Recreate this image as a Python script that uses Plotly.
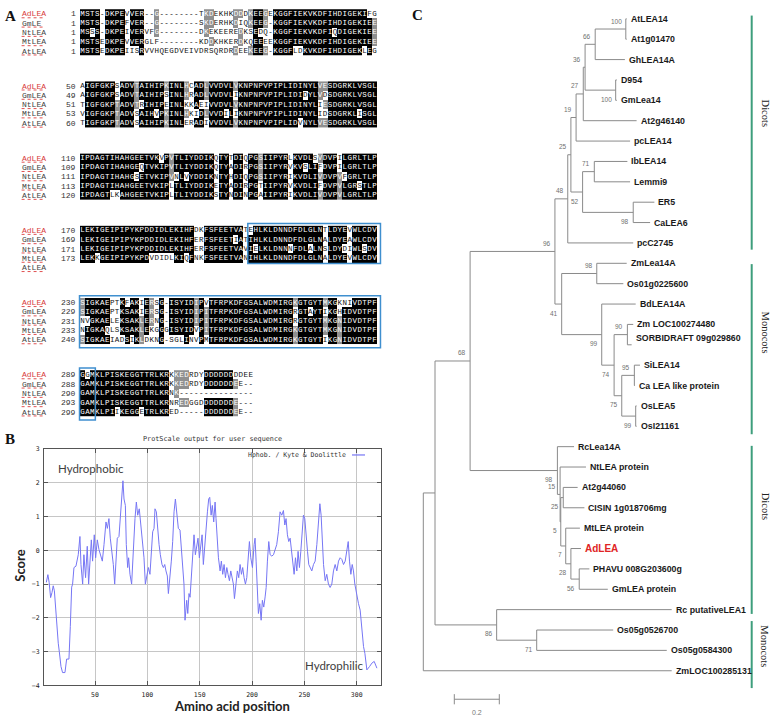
import plotly.graph_objects as go

# ============================== DATA ==============================
# ---- Panel A : multiple sequence alignment (6 blocks, 5 sequences) ----
aln_labels = ["AdLEA", "GmLEA", "NtLEA", "MtLEA", "AtLEA"]
aln_labels_block1 = ["AdLEA", "GmLE", "NtLEA", "MtLEA", "AtLEA"]

aln_block1 = [
    "MSTS-DKPEVVER--G--------TKDEKHKDDDKEEGEKGGFIEKVKDFIHDIGEKIFG",
    "MSTS-DKPEFVER--G--------SKDERHKDIQKEEG-KGGFIEKVKDFIHDIGEKIEE",
    "MSSS-DKPEIVERVFG--------DKEKEEREDKSEDQ-KGGFIEKVKDFIQDIGEKIEE",
    "MSTSEDKPEVVERGLF--------KDDKHKERDKQEEEEKGGFIEKVKDFIHDIGEKIEE",
    "MSTSEDKPEIISRVVHQEGDVEIVDRSQRDRDEEKEEG-KGGFLDKVKDFIHDIGEKLEG",
]
aln_block2 = [
    "AIGFGKPSADVTAIHIPKINLHCADLVVDVLVKNPNPVPIPLIDINYLVESDGRKLVSGL",
    "AIGFGKPSADVTAIHIPSINLHRADLVVDVLIKNPNPVPIPLIDIDYLVDSDGRKLVSGL",
    "TIGFGKPTADVTRIHIPEINLKKAEIVVDVLVKNPNPVPIPLIDINYLIESDGRKLVSGL",
    "VIGFGKPTADVSAIHVPKINLHKIDLVVDILIKNPNPVPIPLIDINYLIDSDGRKLISGL",
    "TIGFGKPTADVSAIHIPKINLERADIVVDVLVKNPNPVPIPLIDVNYLVESDGRKLVSGL",
]
aln_block3 = [
    "IPDAGTIHAHGEETVKVPVTLIYDDIKQTYTDIQPGSIIPYRLKVDLSVDVPILGRLTLP",
    "IPDAGTIHAHGEQTVKIPVTLIYDDIKQTYADIRPGSIIPYRVKVSLIFDVPILGRLTLP",
    "IPDAGTIHAHGSETVKIPVNLVYDDIKNTYHDIQPGSIIPYRIKVDLIVDVPVFGRLTLP",
    "IPDAGTIHAHGEETVKIPLTLIYDDIKETYADIRPGTIIPYRVKVDLIFDVPVLGRSTLP",
    "IPDAGTLKAHGEETVKIPLTLIYDDIKSTYNDINPGAIIPYRIKVDLIVDVPVLGRLTLP",
]
aln_block4 = [
    "LEKIGEIPIPYKPDDIDLEKIHFDKFSFEETVATEHLKLDNNDFDLGLNTLDYEVWLCDV",
    "LEKIGEIPIPYKPDDIDLEKIHFERFSFEETIATIHLKLDNNDFDLGLNALDYEAWLCDV",
    "LEKIGEIPIPYKPDDIDLEKIHFERFSFEETVAVIELKLDNNNFDLALNSLDYDIWLSDV",
    "LEKKGEIPIPYKPDVDIDLKIQFNKFSFEETVANIHLKLDNNDFDLGLNALDYEVWLCDV",
    "",
]
aln_block5 = [
    "SIGKAEPTKFAKIERSG-ISYIDIPVTFRPKDFGSALWDMIRGKGTGYTMKGKNIVDTPF",
    "SIGKAEPTKSAKIERSG-ISYIDIPITFRPKDFGSALWDMIRGRGTAYTIKGHIDVDTPF",
    "NVGKAELEKSAKLERNG-ISYIDIPITFRPKDFGSALWDMIRGRGTGYTMKGNIDVDTPF",
    "NIGKAQLSKSAKLEKGGGISYIDVPITFRPKDFGSALWDMIRGKGTGYTMKGNIDVDTPF",
    "SIGKAEIADSIKLDKNG-SGLINVPMTFRPKDFGSALWDMIRGKGTGYTIKGNIDVDTPF",
]
aln_block6 = [
    "GGMKLPISKEGGTTRLKRKKEDRDYDDDDDDDDEE",
    "GAMKLPISKEGGTTRLKRKKEDRDYDDDDDDEE--",
    "GAMKLPISKEGGTTRLKRNK---------------",
    "GAMKLPISKEGGTTRLKRNREDGGDDDDDDDE---",
    "GAMKLPIIKEGGETRLKRED-----DDDDDDEE--",
]
aln_starts = [
    [1, 1, 1, 1, 1],
    [50, 49, 51, 53, 60],
    [110, 109, 111, 113, 120],
    [170, 169, 171, 173, None],
    [230, 229, 231, 233, 240],
    [289, 288, 290, 293, 299],
]
# boxed motif regions: (block, first column, last column)
aln_boxes = [(3, 34, 59), (4, 0, 59), (5, 0, 2)]

# ---- Panel B : ProtScale Kyte & Doolittle hydropathy ----
kd_position = [
    3.5, 5.0, 6.2, 7.6, 8.9, 10.1, 11.2, 12.3, 13.3, 14.9, 15.9, 17.5, 19.0, 21.3, 22.9, 25.1,
    26.4, 27.7, 28.6, 29.9, 31.8, 34.0, 35.6, 36.6, 38.2, 39.4, 41.0, 42.6, 43.9, 45.2, 46.5,
    47.7, 49.3, 50.6, 52.2, 53.8, 55.4, 57.0, 58.6, 60.5, 61.8, 63.3, 64.6, 66.2, 67.5, 68.8,
    70.0, 71.3, 72.9, 74.5, 75.8, 76.7, 77.7, 79.0, 79.9, 81.2, 82.1, 83.4, 85.0, 86.6, 88.2,
    89.5, 90.8, 92.3, 93.6, 95.2, 96.8, 98.1, 99.4, 101.0, 102.5, 103.8, 105.1, 106.4, 107.3,
    108.6, 109.9, 111.2, 112.4, 114.0, 115.3, 116.6, 117.8, 119.1, 120.1, 121.7, 122.9, 124.2,
    125.5, 126.8, 128.0, 129.6, 131.2, 132.5, 133.8, 135.0, 136.0, 137.6, 138.6, 139.8, 140.8,
    142.1, 143.3, 144.6, 145.9, 147.2, 148.4, 149.7, 151.0, 152.3, 153.5, 154.8, 156.1, 157.4,
    158.6, 159.6, 160.9, 162.1, 163.4, 164.7, 165.6, 166.6, 167.9, 169.5, 170.7, 172.0, 173.3,
    174.6, 175.9, 177.1, 178.4, 179.7, 180.9, 182.2, 183.2, 184.5, 186.0, 187.3, 188.6, 189.9,
    191.1, 192.4, 193.7, 195.0, 196.2, 197.5, 198.8, 200.4, 202.0, 202.9, 203.9, 204.8, 206.1,
    207.4, 208.7, 209.9, 211.2, 212.5, 213.5, 214.7, 216.0, 217.3, 218.9, 220.5, 222.4, 223.6,
    225.2, 226.8, 228.4, 230.0, 231.3, 232.5, 233.8, 235.1, 236.4, 237.6, 238.9, 240.2, 241.5,
    242.8, 244.0, 245.3, 246.6, 247.9, 249.1, 250.4, 251.7, 253.0, 254.2, 255.5, 257.1, 258.7,
    260.3, 261.9, 263.5, 264.8, 266.0, 267.0, 268.3, 269.9, 271.4, 273.0, 274.6, 276.2, 277.8,
    279.4, 281.0, 282.6, 284.2, 285.8, 287.4, 289.0, 290.6, 291.9, 293.1, 294.4, 295.7, 296.9,
    298.2, 299.5, 301.7, 303.3, 304.9, 306.5, 307.8, 309.7, 312.3, 314.5, 316.7, 319.3,
]
kd_score = [
    -0.95, -0.72, -0.95, -1.40, -1.25, -1.05, -1.20, -1.75, -2.17, -2.75, -3.00, -3.44, -3.62, -3.62, -3.22, -3.22,
    -2.26, -1.09, -1.00, -0.51, -0.47, -0.13, 0.41, -0.42, -1.00, -0.13, -0.81, 0.12, -1.00, -0.32, 0.31,
    -0.32, 0.46, -0.22, 0.31, 0.02, -0.17, -0.32, 0.17, 0.84, 0.65, 0.94, 0.36, -0.03, -0.42, -1.00,
    -0.13, 0.36, 0.41, 1.14, 1.72, 2.06, 1.52, 1.33, 0.17, -0.51, -0.22, -0.71, -1.00, 0.17, 0.94,
    1.43, 1.04, 1.23, 0.75, 0.17, -0.22, -1.00, -0.81, -0.51, -0.71, -0.03, 0.55, 0.65, 1.23,
    1.14, 0.55, 0.17, -0.13, -0.42, -0.51, -0.42, -0.61, -0.76, -1.28, -0.81, -0.32, 0.26,
    1.14, 1.52, 1.14, 0.65, 0.60, -0.03, -0.51, -1.00, -2.07, -1.48, -1.87, -1.28, -1.39,
    -0.61, -0.03, 0.46, -0.13, 0.17, 0.36, -0.22, 0.17, 0.46, -0.42, 0.17, 0.75, 1.14,
    1.52, 1.57, 1.04, 1.33, 0.84, 1.43, 0.94, 0.26, -0.22, -0.61, -0.32, -0.71, -0.42,
    -0.81, -0.51, -0.71, -0.90, -0.61, -0.81, -1.00, -1.43, -1.10, -0.61, -0.81, -0.42, -0.71,
    -0.51, -0.81, -1.00, -0.81, -0.13, 0.26, -0.22, -0.51, 0.17, 0.36, -0.32, -1.19, -1.87,
    -1.58, -2.07, -1.48, -1.68, -1.38, -1.10, -0.32, 0.26, -0.13, -0.17, -0.13, 0.07, 0.17,
    0.55, 1.14, 1.04, 1.18, 0.75, 0.94, 0.46, 0.26, 0.36, 0.07, -0.32, -0.71, -0.22,
    -0.61, -0.03, -0.51, -0.03, 0.46, 1.04, 0.94, 0.55, -0.03, -0.42, -0.51, -0.61, -0.42,
    -0.32, 0.17, 0.75, 1.38, 1.04, 0.26, -0.42, -0.90, -0.71, -1.00, -1.10, -1.00, -0.61,
    -0.42, -0.61, -0.32, -0.22, -0.27, -0.42, -0.32, -0.03, 0.26, -0.32, -0.71, -0.42, -0.61,
    -1.00, -1.25, -1.58, -1.77, -2.36, -2.85, -3.05, -3.54, -3.44, -3.34, -3.29, -3.49,
]
kd_xticks = [50, 100, 150, 200, 250, 300]
kd_yticks = [-4, -3, -2, -1, 0, 1, 2, 3]

# ---- Panel C : neighbour-joining tree (pre-order; parent; branch length) ----
tree_node = [
    "root", "R1", "n68", "n96", "n48", "n25", "n19", "n27", "n36", "n66", "nAt",
    "AtLEA14", "At1g01470", "GhLEA14A", "nD954", "D954", "GmLea14", "At2g46140", "pcLEA14",
    "n52", "n71b", "IbLEA14", "Lemmi9", "n98b", "ER5", "CaLEA6", "pcC2745",
    "n41", "n98c", "ZmLea14A", "Os01g0225600", "n99", "BdLEA14A", "n74", "n90",
    "Zm LOC100274480", "SORBIDRAFT 09g029860", "n75", "n95", "SiLEA14", "Ca LEA like protein",
    "n99b", "OsLEA5", "OsI21161",
    "nA", "RcLea14A", "nB", "NtLEA protein", "nC", "nD", "At2g44060", "CISIN 1g018706mg",
    "nE", "MtLEA protein", "nF", "AdLEA", "nG", "PHAVU 008G203600g", "GmLEA protein",
    "n86", "Rc putativeLEA1", "n71", "Os05g0526700", "Os05g0584300", "ZmLOC100285131",
]
tree_parent = [
    None, "root", "R1", "n68", "n96", "n48", "n25", "n19", "n27", "n36", "n66",
    "nAt", "nAt", "n66", "n36", "nD954", "nD954", "n27", "n19",
    "n25", "n52", "n71b", "n71b", "n52", "n98b", "n98b", "n48",
    "n96", "n41", "n98c", "n98c", "n41", "n99", "n99", "n74",
    "n90", "n90", "n74", "n75", "n95", "n95",
    "n75", "n99b", "n99b",
    "n68", "nA", "nA", "nB", "nB", "nC", "nD", "nD",
    "nC", "nE", "nE", "nF", "nF", "nG", "nG",
    "R1", "n86", "n86", "n71", "n71", "root",
]
tree_branch = [
    0.0, 0.052, 0.156, 0.377, 0.057, 0.014, 0.023, 0.032, 0.008, 0.045, 0.136,
    0.004, 0.004, 0.132, 0.136, 0.005, 0.005, 0.237, 0.240,
    0.052, 0.052, 0.147, 0.159, 0.225, 0.094, 0.075, 0.291,
    0.030, 0.156, 0.133, 0.118, 0.178, 0.151, 0.055, 0.059,
    0.026, 0.019, 0.034, 0.056, 0.025, 0.003,
    0.062, 0.004, 0.004,
    0.388, 0.074, 0.012, 0.115, 0.003, 0.011, 0.064, 0.094,
    0.022, 0.063, 0.023, 0.045, 0.037, 0.045, 0.127,
    0.274, 0.778, 0.178, 0.340, 0.578, 1.104,
]
bootstrap_node = ["nAt", "n66", "n36", "n27", "nD954", "n19", "n25", "n71b", "n52", "n98b",
                  "n48", "n96", "n98c", "n41", "n99", "n90", "n74", "n95", "n75", "n99b",
                  "n68", "nA", "nB", "nD", "nC", "nE", "nF", "nG", "n86", "n71"]
bootstrap_value = [100, 66, 36, 27, 100, 19, 25, 71, 52, 98,
                   48, 96, 98, 41, 99, 90, 74, 95, 75, 99,
                   68, 98, 15, 25, 5, 7, 28, 56, 86, 71]
bootstrap_below = ["nD954", "n52", "n98b", "n41", "n99", "n74", "n75", "n99b",
                   "nA", "nD", "nC", "nE", "nF", "nG", "n86", "n71"]
clade_name = ["Dicots", "Monocots", "Dicots", "Monocots"]
clade_first = [-0.16, 12.04, 20.96, 29.56]
clade_last = [11.33, 20.39, 29.21, 32.85]
clade_label_at = [4.6, 15.4, 23.9, 30.8]
scale_bar_length = 0.2

# ============================== LAYOUT CONSTANTS ==============================
W, H = 771, 725
CELL_PX, LEFT_PX = 4.95, 80.0
ROW_PX, TOP_PX, BLOCK_PX = 9.4, 10.0, 73.0
BLOCK_STEP = BLOCK_PX / ROW_PX
LEAF_PX, LEAF0_PX = 20.6, 15.0
TREE_SCALE_PX, ROOT_PX, TREE_LEFT_PX = 225.0, 423.3, 395.0


def px(xp):
    return xp / W


def py(yp):
    return 1 - yp / H


def paper_text(xx, yy, text, font, xanchor="center", **kw):
    return dict(x=px(xx), y=py(yy), xref="paper", yref="paper", text=text, showarrow=False,
                xanchor=xanchor, yanchor="middle", font=font, **kw)


fig = go.Figure()
annotations = []
shapes = []

# ============================== PANEL A ==============================
blocks = [aln_block1, aln_block2, aln_block3, aln_block4, aln_block5, aln_block6]
block_labels = [aln_labels_block1] + [aln_labels] * 5

lx, ly, lt, lc = [], [], [], []
for b, seqs in enumerate(blocks):
    ncol = max(len(s) for s in seqs)
    present = sum(1 for s in seqs if s)
    levels, tops = [], []
    for c in range(ncol):
        res = [s[c] for s in seqs if c < len(s) and s[c] != "-"]
        if not res:
            levels.append(0)
            tops.append(None)
            continue
        top = max(sorted(set(res)), key=res.count)
        k = res.count(top)
        if k >= 3 and k >= present - 1:
            lvl = 2
        elif k >= 3:
            lvl = 1
        else:
            lvl = 0
        levels.append(lvl)
        tops.append(top)
    z = []
    for r, s in enumerate(seqs):
        zr = []
        for c in range(ncol):
            ch = s[c] if c < len(s) else "-"
            v = levels[c] if (ch != "-" and ch == tops[c]) else 0
            zr.append(v)
            if c < len(s):
                lx.append(c)
                ly.append(b * BLOCK_STEP + r)
                lt.append(ch)
                lc.append("#ffffff" if v > 0 else "#111111")
        z.append(zr)
    fig.add_trace(go.Heatmap(
        z=z, x=list(range(ncol)), y=[b * BLOCK_STEP + r for r in range(len(seqs))],
        colorscale=[[0, "#ffffff"], [0.5, "#8f8f8f"], [1, "#000000"]],
        zmin=0, zmax=2, showscale=False, hoverinfo="skip", xaxis="x", yaxis="y"))
    for r, name in enumerate(block_labels[b]):
        yv = b * BLOCK_STEP + r
        annotations.append(dict(
            x=-12.6, y=yv, xref="x", yref="y", text=name, showarrow=False,
            xanchor="left", yanchor="middle",
            font=dict(family="Liberation Mono", size=8,
                      color="#d83a3a" if name == "AdLEA" else "#444444")))
        st = aln_starts[b][r]
        if st is not None:
            annotations.append(dict(
                x=-0.85, y=yv, xref="x", yref="y", text=str(st), showarrow=False,
                xanchor="right", yanchor="middle",
                font=dict(family="Liberation Mono", size=8, color="#333333")))

fig.add_trace(go.Scatter(
    x=lx, y=ly, text=lt, mode="text", textposition="middle center",
    textfont=dict(family="Liberation Mono", size=7.5, color=lc),
    hoverinfo="skip", xaxis="x", yaxis="y", cliponaxis=False))

# spell-check style underlines under the sequence names
ux, uy = [], []
for b in range(len(blocks)):
    for r in range(5):
        yv = b * BLOCK_STEP + r + 0.42
        ux += [-12.3, -7.5, None]
        uy += [yv, yv, None]
fig.add_trace(go.Scatter(x=ux, y=uy, mode="lines", line=dict(color="#e05050", width=1, dash="dot"),
                         hoverinfo="skip", xaxis="x", yaxis="y"))

for b, c0, c1 in aln_boxes:
    nrow = sum(1 for s in blocks[b] if s)
    y0 = b * BLOCK_STEP - 0.75
    y1 = b * BLOCK_STEP + nrow - 1 + (0.55 if nrow == 4 else 0.85)
    shapes.append(dict(type="rect", xref="x", yref="y", x0=c0 - 0.6, x1=c1 + (1.2 if c1 > 50 else 0.6),
                       y0=y0, y1=y1, line=dict(color="#3f8fcf", width=1.5)))

# ============================== PANEL B ==============================
fig.add_trace(go.Scatter(
    x=kd_position, y=kd_score, mode="lines", line=dict(color="#7676f4", width=1),
    name="Hphob. / Kyte & Doolittle", hoverinfo="skip", xaxis="x2", yaxis="y2"))

mono = dict(family="DejaVu Sans Mono", size=6.5, color="#333333")
annotations.append(paper_text(348, 456, "Hphob. / Kyte & Doolittle", mono, xanchor="right"))
shapes.append(dict(type="line", xref="paper", yref="paper", x0=px(352), x1=px(365),
                   y0=py(456), y1=py(456), line=dict(color="#7676f4", width=1.2)))
annotations.append(paper_text(212, 440, "ProtScale output for user sequence",
                              dict(family="DejaVu Sans Mono", size=6.8, color="#333333")))
annotations.append(paper_text(91, 470, "Hydrophobic", dict(family="Lato", size=11.5, color="#404040")))
annotations.append(paper_text(334, 669, "Hydrophilic", dict(family="Lato", size=11.5, color="#404040")))
annotations.append(paper_text(20, 568, "<b>Score</b>", dict(family="Lato", size=13, color="#222222"),
                              textangle=-90))
annotations.append(paper_text(232, 710, "<b>Amino acid position</b>",
                              dict(family="Lato", size=13, color="#222222")))

# ============================== PANEL C ==============================
children = {}
for n, p in zip(tree_node, tree_parent):
    if p is not None:
        children.setdefault(p, []).append(n)
depth = {}
for n, p, bl in zip(tree_node, tree_parent, tree_branch):
    depth[n] = 0.0 if p is None else depth[p] + bl
ypos = {}
leaf_counter = [0]


def place(n):
    if n not in children:
        ypos[n] = leaf_counter[0]
        leaf_counter[0] += 1
    else:
        for ch in children[n]:
            place(ch)
        ypos[n] = (ypos[children[n][0]] + ypos[children[n][-1]]) / 2


place("root")

tx, ty = [], []
for n, p in zip(tree_node, tree_parent):
    if p is not None:
        tx += [depth[p], depth[n], None]
        ty += [ypos[n], ypos[n], None]
    if n in children:
        tx += [depth[n], depth[n], None]
        ty += [ypos[children[n][0]], ypos[children[n][-1]], None]
fig.add_trace(go.Scatter(x=tx, y=ty, mode="lines", line=dict(color="#8a8a8a", width=1),
                         hoverinfo="skip", xaxis="x3", yaxis="y3"))

for n in tree_node:
    if n in children:
        continue
    is_ad = n == "AdLEA"
    annotations.append(dict(
        x=depth[n], y=ypos[n], xref="x3", yref="y3", xanchor="left", yanchor="middle", xshift=2,
        yshift=7 if n.startswith("SORBIDRAFT") else 0,
        text="<b>%s</b>" % n, showarrow=False,
        font=dict(family="Liberation Sans", size=10 if is_ad else 8.8,
                  color="#e02424" if is_ad else "#1a1a1a")))

for n, v in zip(bootstrap_node, bootstrap_value):
    annotations.append(dict(
        x=depth[n], y=ypos[n], xref="x3", yref="y3", xanchor="right", yanchor="middle", xshift=-2,
        yshift=-9 if n in bootstrap_below else 8, text=str(v), showarrow=False,
        font=dict(family="Liberation Sans", size=6.5, color="#707070")))

# clade bars
cx, cy = [], []
bar_x = (751.7 - ROOT_PX) / TREE_SCALE_PX
lab_x = (765.0 - ROOT_PX) / TREE_SCALE_PX
for name, a, b_, m in zip(clade_name, clade_first, clade_last, clade_label_at):
    cx += [bar_x, bar_x, None]
    cy += [a, b_, None]
    annotations.append(dict(x=lab_x, y=m, xref="x3", yref="y3", text=name, textangle=90,
                            showarrow=False, xanchor="center", yanchor="middle",
                            font=dict(family="Liberation Serif", size=10.5, color="#222222")))
fig.add_trace(go.Scatter(x=cx, y=cy, mode="lines", line=dict(color="#3e9e7c", width=2),
                         hoverinfo="skip", xaxis="x3", yaxis="y3"))

# scale bar
sb_x0 = (454.3 - ROOT_PX) / TREE_SCALE_PX
sb_y = (703 - LEAF0_PX) / LEAF_PX
fig.add_trace(go.Scatter(
    x=[sb_x0, sb_x0 + scale_bar_length, None, sb_x0, sb_x0, None,
       sb_x0 + scale_bar_length, sb_x0 + scale_bar_length],
    y=[sb_y, sb_y, None, sb_y - 0.25, sb_y + 0.25, None, sb_y - 0.25, sb_y + 0.25],
    mode="lines", line=dict(color="#8a8a8a", width=1), hoverinfo="skip", xaxis="x3", yaxis="y3"))
annotations.append(dict(x=sb_x0 + scale_bar_length / 2, y=sb_y + 0.4, xref="x3", yref="y3",
                        text=str(scale_bar_length), showarrow=False, xanchor="center", yanchor="top",
                        font=dict(family="Liberation Sans", size=7, color="#777777")))

# panel letters
for letter, xx, yy in [("A", 10, 12), ("B", 10, 440), ("C", 418, 11)]:
    annotations.append(paper_text(xx, yy, "<b>%s</b>" % letter,
                                  dict(family="Liberation Serif", size=15, color="#111111")))

# ============================== AXES ==============================
hidden = dict(visible=False, showgrid=False, zeroline=False, fixedrange=True)
tickfont = dict(family="DejaVu Sans Mono", size=6.5, color="#222222")
b_axis = dict(showline=True, linecolor="#555555", linewidth=1, mirror="ticks", ticks="inside",
              ticklen=4, tickcolor="#555555", showgrid=True, gridcolor="#c6c6c6", gridwidth=1.3,
              zeroline=False, tickfont=tickfont, fixedrange=True)

fig.update_layout(
    width=W, height=H, margin=dict(l=0, r=0, t=0, b=0),
    paper_bgcolor="white", plot_bgcolor="rgba(0,0,0,0)", showlegend=False,
    xaxis=dict(domain=[0, px(390)], range=[-LEFT_PX / CELL_PX - 0.5, (390 - LEFT_PX) / CELL_PX - 0.5],
               anchor="y", **hidden),
    yaxis=dict(domain=[0, 1], range=[(H - TOP_PX) / ROW_PX, -TOP_PX / ROW_PX], anchor="x", **hidden),
    xaxis2=dict(domain=[px(44), px(381)], range=[1.28, 323.2], anchor="y2", tickvals=kd_xticks,
                ticklabelstandoff=3, **b_axis),
    yaxis2=dict(domain=[1 - 689 / H, 1 - 450 / H], range=[-4, 3], anchor="x2", tickvals=kd_yticks,
                ticklabelstandoff=2, **b_axis),
    xaxis3=dict(domain=[px(TREE_LEFT_PX), 1],
                range=[-(ROOT_PX - TREE_LEFT_PX) / TREE_SCALE_PX,
                       (W - ROOT_PX) / TREE_SCALE_PX], anchor="y3", **hidden),
    yaxis3=dict(domain=[0, 1], range=[(H - LEAF0_PX) / LEAF_PX, -LEAF0_PX / LEAF_PX], anchor="x3", **hidden),
    annotations=annotations, shapes=shapes,
)

fig.write_html("out.html",
               config={"displayModeBar": False},
               post_script="document.body.style.margin='0px';"
                           "document.documentElement.style.overflow='hidden';")
